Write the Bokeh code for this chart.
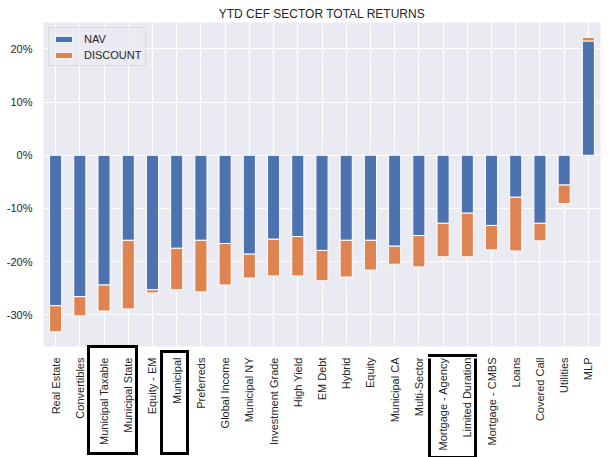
from bokeh.plotting import figure
from bokeh.models import (ColumnDataSource, FactorRange, Range1d, FixedTicker,
                          PrintfTickFormatter, LinearAxis, CustomJSTickFormatter)
from bokeh.embed import file_html
from bokeh.resources import INLINE
import math

sectors = ["Real Estate", "Convertibles", "Municipal Taxable", "Municipal State",
           "Equity - EM", "Municipal", "Preferreds", "Global Income", "Municipal NY",
           "Investment Grade", "High Yield", "EM Debt", "Hybrid", "Equity",
           "Municipal CA", "Multi-Sector", "Mortgage - Agency", "Limited Duration",
           "Mortgage - CMBS", "Loans", "Covered Call", "Utilities", "MLP"]
nav = [-28.3, -26.6, -24.4, -16.0, -25.3, -17.5, -16.0, -16.6, -18.6, -15.8, -15.3,
       -17.9, -16.0, -16.0, -17.1, -15.1, -12.8, -10.9, -13.2, -7.9, -12.8, -5.6, 21.5]
discount = [-4.9, -3.6, -4.9, -12.9, -0.6, -7.8, -9.7, -7.8, -4.5, -6.9, -7.4,
            -5.7, -6.9, -5.6, -3.4, -5.9, -6.3, -8.2, -4.6, -10.1, -3.3, -3.5, 0.7]
y_ticks = [-30, -20, -10, 0, 10, 20]
highlight_groups = [("Municipal Taxable", "Municipal State"),
                    ("Municipal", "Municipal"),
                    ("Mortgage - Agency", "Limited Duration")]

total = [n + d for n, d in zip(nav, discount)]
src = ColumnDataSource(dict(x=sectors, nav=nav, zero=[0] * len(nav), total=total))

lo, hi = min(min(total), 0), max(max(total), 0)
pad = 0.05 * (hi - lo)

FONT = "Liberation Sans"
TXT = "#262626"

p = figure(x_range=FactorRange(*sectors, range_padding=0),
           y_range=Range1d(lo - pad, hi + pad),
           width=613, height=457, output_backend="svg", toolbar_location=None,
           min_border_left=43, min_border_right=13, min_border_top=22,
           min_border_bottom=110, title="YTD CEF SECTOR TOTAL RETURNS")
p.background_fill_color = "#EAEAF2"
p.border_fill_color = "white"
p.outline_line_color = None

p.title.align = "center"
p.title.text_font = FONT
p.title.text_font_size = "12px"
p.title.text_font_style = "normal"
p.title.text_color = TXT
p.title.standoff = 4

p.vbar(x="x", bottom="zero", top="nav", width=0.5, source=src,
       fill_color="#4C72B0", line_color="white", line_width=1, legend_label="NAV")
p.vbar(x="x", bottom="nav", top="total", width=0.5, source=src,
       fill_color="#DD8452", line_color="white", line_width=1, legend_label="DISCOUNT")

for g in (p.xgrid, p.ygrid):
    g.grid_line_color = "white"
    g.grid_line_width = 1.2
p.xgrid.bounds = (0, len(sectors))

xaxis = p.below[0]
yaxis = p.left[0]
yaxis.ticker = FixedTicker(ticks=y_ticks)
yaxis.formatter = PrintfTickFormatter(format="%d%%")
for ax in (xaxis, yaxis):
    ax.axis_line_color = None
    ax.major_tick_line_color = None
    ax.minor_tick_line_color = None
    ax.major_tick_in = 0
    ax.major_tick_out = 0
    ax.major_label_text_font = FONT
    ax.major_label_text_font_size = "11px"
    ax.major_label_text_color = TXT
yaxis.major_label_standoff = 11
xaxis.major_label_standoff = 2
xaxis.major_label_orientation = math.pi / 2

lg = p.legend[0]
lg.location = "top_left"
lg.margin = 5
lg.padding = 4
lg.spacing = 3
lg.glyph_width = 21
lg.glyph_height = 8
lg.label_height = 13
lg.label_standoff = 10
lg.label_text_font = FONT
lg.label_text_font_size = "11px"
lg.label_text_color = TXT
lg.background_fill_color = "#EAEAF2"
lg.background_fill_alpha = 0.8
lg.border_line_color = "#CCCCCC"
lg.border_line_width = 1

# highlight frames around tick-label groups, drawn with helper axes stacked in
# the "below" panel: axis lines give the horizontal edges, ticks the vertical ones
box_dx = [(-0.63, 0.33), (-0.61, 0.44), (-0.57, 0.34)]
edges = []
for (a, b), (dl, dr) in zip(highlight_groups, box_dx):
    edges.append([sectors.index(a) + 0.5 + dl, sectors.index(b) + 0.5 + dr])


def helper(edge, major=False, out=0, m_in=0, line=True):
    l, r = edge
    return LinearAxis(ticker=FixedTicker(ticks=[l, r] if major else [],
                                         minor_ticks=[] if major else [l, r]),
                      bounds=(l - 1e-6, r + 1e-6),
                      formatter=CustomJSTickFormatter(code="return ''"),
                      axis_line_color="black" if line else None, axis_line_width=3,
                      axis_line_cap="square",
                      major_tick_line_color="black", major_tick_line_width=3,
                      major_tick_in=0, major_tick_out=out,
                      minor_tick_line_color="black", minor_tick_line_width=3,
                      minor_tick_in=m_in, minor_tick_out=0,
                      major_label_standoff=0, major_label_text_font_size="0px",
                      major_label_text_alpha=0)


top1 = helper(edges[0], major=True, out=5)          # top edge of box 1
top2 = helper(edges[1], major=True, out=4)          # top edge of box 2
top3 = helper(edges[2])                             # top edge of box 3
bot2 = helper(edges[1], m_in=99)                    # bottom + sides of box 2
bot1 = helper(edges[0], m_in=105)                   # bottom + sides of box 1
gap3 = helper(edges[2], major=True, out=4, line=False)
bot3 = helper(edges[2], m_in=99)                    # bottom + sides of box 3
p.below = [top1, top2, top3, xaxis, bot2, bot1, gap3, bot3]

open("out.html", "w").write(file_html(p, INLINE))
